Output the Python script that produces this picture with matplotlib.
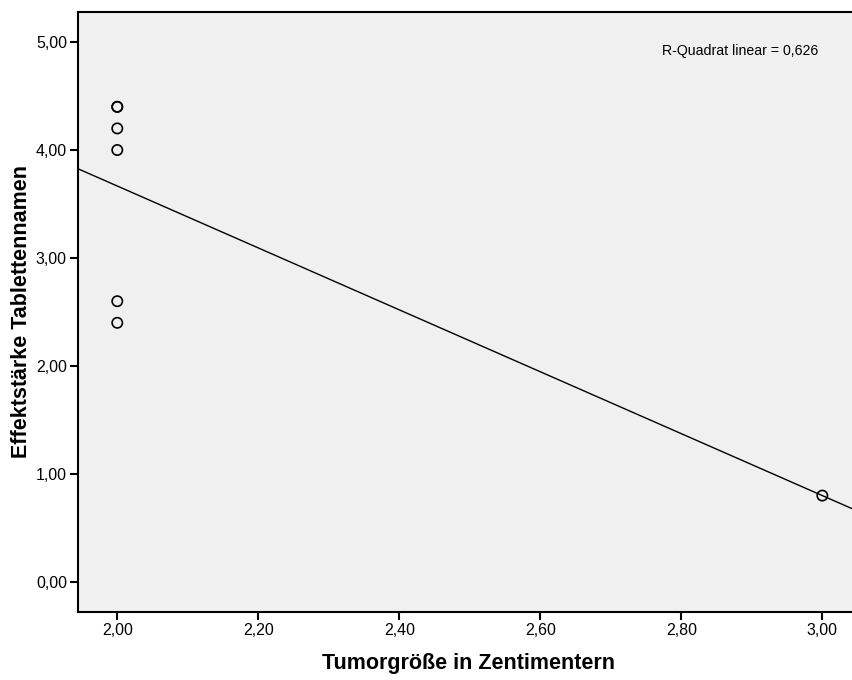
import matplotlib
matplotlib.use("Agg")
import matplotlib.pyplot as plt
import numpy as np
from matplotlib.ticker import FuncFormatter

plt.rcParams['font.family'] = ['Liberation Sans', 'DejaVu Sans']

tumor_size = [2.0, 2.0, 2.0, 2.0, 2.0, 2.0, 3.0]
effect = [4.4, 4.4, 4.2, 4.0, 2.6, 2.4, 0.8]
x_ticks = [2.0, 2.2, 2.4, 2.6, 2.8, 3.0]
y_ticks = [0.0, 1.0, 2.0, 3.0, 4.0, 5.0]

W, H = 853, 680
fig = plt.figure(figsize=(W/100, H/100), dpi=100)
ax = fig.add_axes([78/W, 68/H, 775/W, 600/H])
ax.set_facecolor('#F0F0F0')

xlim = (1.9443, 3.0435)
ylim = (-0.278, 5.278)
ax.set_xlim(*xlim)
ax.set_ylim(*ylim)

x = np.array(tumor_size)
y = np.array(effect)
slope, intercept = np.polyfit(x, y, 1)
r2 = np.corrcoef(x, y)[0, 1] ** 2
xl = np.array(xlim)
ax.plot(xl, intercept + slope * xl, color='black', lw=1.0)

ax.scatter(x, y, s=55, facecolors='none', edgecolors='black', linewidths=1.2, zorder=3)

ax.set_xticks(x_ticks)
ax.set_yticks(y_ticks)
fmt = FuncFormatter(lambda v, p: f"{v:.2f}".replace('.', ','))
ax.xaxis.set_major_formatter(fmt)
ax.yaxis.set_major_formatter(fmt)
ax.tick_params(direction='out', length=6, width=1.5, labelsize=11.5, colors='black', pad=2)

for s in ['left', 'bottom', 'top']:
    ax.spines[s].set_linewidth(1.5)
    ax.spines[s].set_color('black')
ax.spines['right'].set_visible(False)

fig.text(469/W, 1 - 663/H, 'Tumorgröße in Zentimentern', fontsize=15.5, fontweight='bold',
         ha='center', va='center')
fig.text(22/W, 1 - 312/H, 'Effektstärke Tablettennamen', fontsize=15.5, fontweight='bold',
         ha='center', va='center', rotation=90)

ax.text(0.955, 0.935, f"R-Quadrat linear = {r2:.3f}".replace('.', ','),
        transform=ax.transAxes, ha='right', va='center', fontsize=10.2)

fig.savefig('out.png', dpi=100, facecolor='white')
